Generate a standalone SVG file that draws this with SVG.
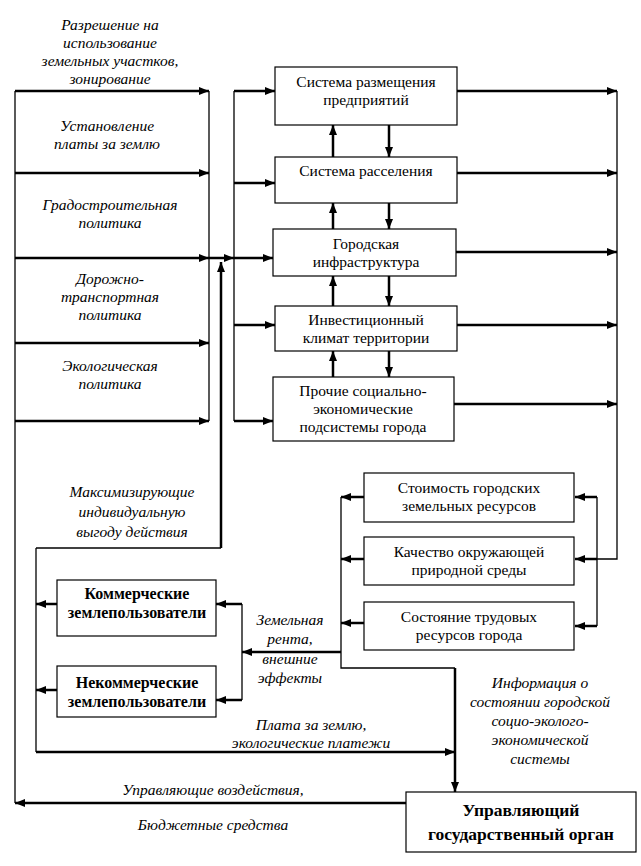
<svg xmlns="http://www.w3.org/2000/svg" width="641" height="866" viewBox="0 0 641 866" font-family="Liberation Serif, Times New Roman, DejaVu Serif, serif">
<defs>
<marker id="ah" markerWidth="10" markerHeight="8" refX="10" refY="4" orient="auto" markerUnits="userSpaceOnUse"><path d="M0,0 L10,4 L0,8 z" fill="#000"/></marker>
<style>
.box{fill:#fff;stroke:#000;stroke-width:1.2}
.t{font-size:15.5px;text-anchor:middle;fill:#000}
.b{font-weight:bold;font-size:16px}
.bb{font-weight:bold;font-size:17.5px}
.i{font-size:15.5px;font-style:italic;text-anchor:middle;fill:#000}
.th{fill:none;stroke:#000;stroke-width:2.5}
.tn{fill:none;stroke:#000;stroke-width:1.3}
.a{marker-end:url(#ah)}
</style>
</defs>
<rect width="641" height="866" fill="#fff"/>

<g id="connectors">
<path class="tn" d="M15,91 V803"/>
<path class="th a" d="M15,91 H209"/>
<path class="th a" d="M15,173 H209"/>
<path class="th a" d="M15,258 H209"/>
<path class="th a" d="M15,343 H209"/>
<path class="th a" d="M15,421 H209"/>
<path class="tn" d="M209,91 V421"/>
<path class="th a" d="M209,258 H234"/>
<path class="tn" d="M234,91 V421"/>
<path class="th a" d="M234,91 H275"/>
<path class="th a" d="M234,183 H275"/>
<path class="th a" d="M234,258 H273"/>
<path class="th a" d="M234,325 H275"/>
<path class="th a" d="M234,421 H273"/>
<path class="th a" d="M333,157 V125"/>
<path class="th a" d="M389,125 V157"/>
<path class="th a" d="M333,229 V203"/>
<path class="th a" d="M389,203 V229"/>
<path class="th a" d="M333,306 V276"/>
<path class="th a" d="M389,276 V306"/>
<path class="th a" d="M333,377 V351"/>
<path class="th a" d="M389,351 V377"/>
<path class="th a" d="M457,91 H617"/>
<path class="th a" d="M457,173 H617"/>
<path class="th a" d="M456,252 H617"/>
<path class="th a" d="M457,325 H617"/>
<path class="th a" d="M454,404 H617"/>
<path class="tn" d="M617,91 V559 H597"/>
<path class="tn" d="M597,497 V626"/>
<path class="th a" d="M597,497 H575"/>
<path class="th a" d="M597,559 H575"/>
<path class="th a" d="M597,626 H575"/>
<path class="th a" d="M364,497 H341"/>
<path class="th a" d="M364,559 H341"/>
<path class="th a" d="M364,623 H341"/>
<path class="tn" d="M341,497 V668 H455"/>
<path class="th a" d="M455,668 V792"/>
<path class="th a" d="M341,652 H242"/>
<path class="tn" d="M242,604 V700"/>
<path class="th a" d="M242,604 H216"/>
<path class="th a" d="M242,700 H216"/>
<path class="th a" d="M57,604 H36"/>
<path class="th a" d="M57,690 H36"/>
<path class="tn" d="M36,548 V752"/>
<path class="tn" d="M36,548 H221"/>
<path class="th a" d="M221,548 V262"/>
<path class="th a" d="M36,752 H455"/>
<path class="th a" d="M406,803 H15"/>
</g>

<g id="labels">
<text class="i" x="110" y="30">Разрешение на</text>
<text class="i" x="110" y="48">использование</text>
<text class="i" x="110" y="66">земельных участков,</text>
<text class="i" x="110" y="84">зонирование</text>
<text class="i" x="107" y="131">Установление</text>
<text class="i" x="107" y="149">платы за землю</text>
<text class="i" x="110" y="210">Градостроительная</text>
<text class="i" x="110" y="228">политика</text>
<text class="i" x="110" y="284">Дорожно-</text>
<text class="i" x="110" y="302">транспортная</text>
<text class="i" x="110" y="320">политика</text>
<text class="i" x="110" y="371">Экологическая</text>
<text class="i" x="110" y="389">политика</text>
<text class="i" x="132" y="497">Максимизирующие</text>
<text class="i" x="132" y="517">индивидуальную</text>
<text class="i" x="132" y="537">выгоду действия</text>
<text class="i" x="290" y="625">Земельная</text>
<text class="i" x="290" y="644">рента,</text>
<text class="i" x="290" y="664">внешние</text>
<text class="i" x="290" y="683">эффекты</text>
<text class="i" x="311" y="730">Плата за землю,</text>
<text class="i" x="311" y="748">экологические платежи</text>
<text class="i" x="540" y="688">Информация о</text>
<text class="i" x="540" y="707">состоянии городской</text>
<text class="i" x="540" y="726">социо-эколого-</text>
<text class="i" x="540" y="745">экономической</text>
<text class="i" x="540" y="764">системы</text>
<text class="i" x="213" y="795">Управляющие воздействия,</text>
<text class="i" x="213" y="830">Бюджетные средства</text>
</g>

<g id="n1"><rect class="box" x="275" y="67" width="182" height="58"/><text class="t" x="366" y="87">Система размещения</text><text class="t" x="366" y="105">предприятий</text></g>
<g id="n2"><rect class="box" x="275" y="157" width="182" height="46"/><text class="t" x="366" y="176">Система расселения</text></g>
<g id="n3"><rect class="box" x="273" y="229" width="183" height="47"/><text class="t" x="366" y="249">Городская</text><text class="t" x="366" y="267">инфраструктура</text></g>
<g id="n4"><rect class="box" x="275" y="306" width="182" height="45"/><text class="t" x="366" y="325">Инвестиционный</text><text class="t" x="366" y="343">климат территории</text></g>
<g id="n5"><rect class="box" x="273" y="377" width="181" height="64"/><text class="t" x="363" y="396">Прочие социально-</text><text class="t" x="363" y="414">экономические</text><text class="t" x="363" y="432">подсистемы города</text></g>
<g id="n6"><rect class="box" x="364" y="473" width="210" height="49"/><text class="t" x="469" y="493">Стоимость городских</text><text class="t" x="469" y="511">земельных ресурсов</text></g>
<g id="n7"><rect class="box" x="364" y="537" width="210" height="48"/><text class="t" x="469" y="557">Качество окружающей</text><text class="t" x="469" y="575">природной среды</text></g>
<g id="n8"><rect class="box" x="364" y="602" width="210" height="48"/><text class="t" x="469" y="622">Состояние трудовых</text><text class="t" x="469" y="640">ресурсов города</text></g>
<g id="n9"><rect class="box" x="57" y="580" width="159" height="56"/><text class="t b" x="137" y="599">Коммерческие</text><text class="t b" x="137" y="618">землепользователи</text></g>
<g id="n10"><rect class="box" x="57" y="666" width="159" height="51"/><text class="t b" x="137" y="688">Некоммерческие</text><text class="t b" x="137" y="707">землепользователи</text></g>
<g id="n11"><rect class="box" x="406" y="792" width="230" height="60"/><text class="t bb" x="521" y="816">Управляющий</text><text class="t bb" x="521" y="840">государственный орган</text></g>
</svg>
